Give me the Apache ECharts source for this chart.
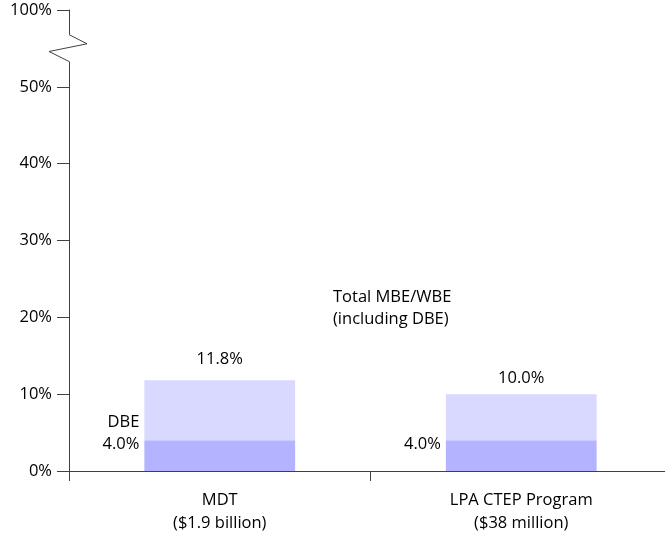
<!DOCTYPE html>
<html><head><meta charset="utf-8">
<script src="https://cdn.jsdelivr.net/npm/echarts@6/dist/echarts.min.js"></script>
<style>html,body{margin:0;padding:0;background:#fff;overflow:hidden}#c{width:672px;height:537px}</style>
</head><body><div id="c"></div>
<script>
const categories = ['MDT\n($1.9 billion)', 'LPA CTEP Program\n($38 million)'];
const dbeValues = [4.0, 4.0];
const totalValues = [11.8, 10.0];
const dbeLabels = ['DBE\n4.0%', '4.0%'];
const yTickLabels = {0: '0%', 10: '10%', 20: '20%', 30: '30%', 40: '40%', 50: '50%', 60: '100%'};

const FONT = 'Open Sans';
const FS = 16.5;
const chart = echarts.init(document.getElementById('c'));
const totalLabelDist = [13, 7];
chart.setOption({
  animation: false,
  textStyle: {fontFamily: FONT},
  grid: {left: 69, top: 10, bottom: 66, right: 0, containLabel: false},
  xAxis: {
    type: 'category', data: categories,
    axisLine: {lineStyle: {color: '#404040', width: 1}},
    axisTick: {show: true, length: 10, lineStyle: {color: '#404040'}},
    axisLabel: {color: '#000', fontFamily: FONT, fontSize: FS, lineHeight: 23, margin: 18}
  },
  yAxis: {
    type: 'value', min: 0, max: 60, interval: 10,
    splitLine: {show: false},
    axisLine: {show: true, lineStyle: {color: '#404040', width: 1}},
    axisTick: {show: true, length: 12, lineStyle: {color: '#404040'}},
    axisLabel: {color: '#000', fontFamily: FONT, fontSize: FS, margin: 17,
      formatter: v => yTickLabels[v] || ''}
  },
  series: [
    {
      type: 'bar', stack: 's', barWidth: '50%', data: dbeValues,
      itemStyle: {color: '#b3b3ff'},
      label: {show: true, position: 'left', distance: 5, color: '#000', fontSize: FS, lineHeight: 22,
        fontFamily: FONT, align: 'right', verticalAlign: 'bottom',
        formatter: p => dbeLabels[p.dataIndex]}
    },
    {
      type: 'bar', stack: 's', barWidth: '50%',
      data: totalValues.map((t, i) => ({
        value: +(t - dbeValues[i]).toFixed(1),
        label: {distance: totalLabelDist[i]}
      })),
      itemStyle: {color: '#d9d9ff'},
      label: {show: true, position: 'top', color: '#000', fontSize: FS, fontFamily: FONT,
        formatter: p => totalValues[p.dataIndex].toFixed(1) + '%'}
    }
  ]
});

// axis break zigzag between 50% and the 100% tick
const c0 = chart.convertToPixel({xAxisIndex: 0}, categories[0]);
const c1 = chart.convertToPixel({xAxisIndex: 0}, categories[1]);
const ax = c0 - (c1 - c0) / 2;
const py = v => chart.convertToPixel({yAxisIndex: 0}, v);
chart.setOption({
  graphic: [
    {type: 'line', z: 100, shape: {x1: ax, y1: py(56.8), x2: ax, y2: py(53.3)},
      style: {stroke: '#fff', lineWidth: 4}},
    {type: 'polyline', z: 101,
      shape: {points: [[ax, py(56.8)], [ax + 18, py(55.6)], [ax - 20, py(54.6)], [ax, py(53.3)]]},
      style: {stroke: '#404040', lineWidth: 1, fill: null}},
    {type: 'text', left: 333, top: 286,
      style: {text: 'Total MBE/WBE\n(including DBE)', font: FS + 'px ' + FONT, fill: '#000', lineHeight: 22}}
  ]
});
</script></body></html>
